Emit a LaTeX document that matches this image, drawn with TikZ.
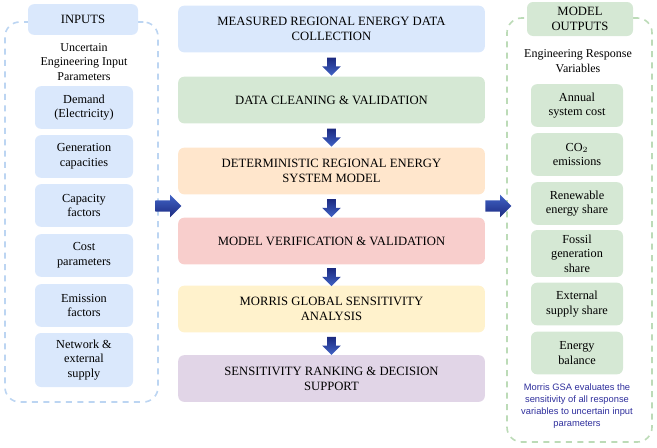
\documentclass[tikz,border=0pt]{standalone}
\usepackage{fontspec}
\setmainfont{Liberation Serif}
\newfontfamily\notefont{Liberation Sans}
\usetikzlibrary{shapes.arrows,calc}
\definecolor{inblue}{HTML}{DAE8FC}
\definecolor{ingreen}{HTML}{D5E8D4}
\definecolor{inorange}{HTML}{FFE6CC}
\definecolor{inred}{HTML}{F8CECC}
\definecolor{inyellow}{HTML}{FFF2CC}
\definecolor{inpurple}{HTML}{E1D5E7}
\definecolor{dashblue}{HTML}{BCD5F2}
\definecolor{dashgreen}{HTML}{BCDBB7}
\definecolor{notenavy}{HTML}{2E2E9C}
\definecolor{arrowdark}{HTML}{1C2A80}
\definecolor{arrowlight}{HTML}{4163C6}

\begin{document}
\begin{tikzpicture}[x=0.75pt,y=-0.75pt,
  panel/.style={rectangle, rounded corners=11pt, line width=1.2pt, dash pattern=on 4.5pt off 4pt},
  header/.style={rectangle, rounded corners=4.5pt, align=center, font=\fontsize{9.5}{11}\selectfont},
  stage/.style={rectangle, rounded corners=4.5pt, minimum width=230pt, minimum height=35pt, align=center, font=\fontsize{9.5}{11.25}\selectfont},
  item/.style={rectangle, rounded corners=4.5pt, minimum height=32pt, align=center, font=\fontsize{9.2}{11}\selectfont},
  initem/.style={item, fill=inblue, minimum width=73.5pt},
  outitem/.style={item, fill=ingreen, minimum width=69pt},
  subtitle/.style={align=center, font=\fontsize{9}{10.9}\selectfont},
  downarrow/.style={single arrow, shape border rotate=270, inner sep=3pt, single arrow head extend=3.75pt, minimum height=13.5pt, top color=arrowdark, bottom color=arrowlight},
  sidearrow/.style={single arrow, inner sep=4pt, single arrow head extend=4.25pt, minimum height=19.5pt, top color=arrowlight, bottom color=arrowdark}]
\useasboundingbox (0,0) rectangle (657,447);

% side panels
\node[panel, draw=dashblue, minimum width=114.75pt, minimum height=285pt] (inpanel) at (81.5,212) {};
\node[panel, draw=dashgreen, minimum width=108.75pt, minimum height=318pt] (outpanel) at (579.5,230) {};

\node[header, fill=inblue, minimum width=82.5pt, minimum height=23pt] (inhead) at (83,19.5) {INPUTS};
\node[header, fill=ingreen, minimum width=79.5pt, minimum height=25.5pt] (outhead) at (580,19) {MODEL\\OUTPUTS};

\node[subtitle] (insub) at (84,62) {Uncertain\\Engineering Input\\Parameters};
\node[subtitle] (outsub) at (578,61) {Engineering Response\\Variables};

% inputs
\node[initem] (in1) at (84,107.5) {Demand\\(Electricity)};
\node[initem] (in2) at (84,156.5) {Generation\\capacities};
\node[initem] (in3) at (84,205.5) {Capacity\\factors};
\node[initem] (in4) at (84,255.5) {Cost\\parameters};
\node[initem] (in5) at (84,305.5) {Emission\\factors};
\node[initem, minimum height=40.5pt] (in6) at (84,360) {Network \&\\external\\supply};

% workflow
\node[stage, fill=inblue] (s1) at (331.5,29) {MEASURED REGIONAL ENERGY DATA\\COLLECTION};
\node[stage, fill=ingreen] (s2) at (331.5,100) {DATA CLEANING \& VALIDATION};
\node[stage, fill=inorange] (s3) at (331.5,171) {DETERMINISTIC REGIONAL ENERGY\\SYSTEM MODEL};
\node[stage, fill=inred] (s4) at (331.5,241) {MODEL VERIFICATION \& VALIDATION};
\node[stage, fill=inyellow] (s5) at (331.5,309) {MORRIS GLOBAL SENSITIVITY\\ANALYSIS};
\node[stage, fill=inpurple] (s6) at (331.5,378.5) {SENSITIVITY RANKING \& DECISION\\SUPPORT};

% outputs
\node[outitem] (out1) at (577,105.5) {Annual\\system cost};
\node[outitem] (out2) at (577,154.5) {CO$_2$\\emissions};
\node[outitem] (out3) at (577,203.5) {Renewable\\energy share};
\node[outitem] (out4) at (577,253.5) {Fossil\\generation\\share};
\node[outitem] (out5) at (577,304) {External\\supply share};
\node[outitem] (out6) at (577,353) {Energy\\balance};

\node[align=center, text=notenavy, font=\notefont\fontsize{7}{9}\selectfont] (note) at (577,406) {Morris GSA evaluates the\\sensitivity of all response\\variables to uncertain input\\parameters};

% arrows
\node[downarrow] (a12) at ($(s1.south)!.5!(s2.north)$) {};
\node[downarrow] (a23) at ($(s2.south)!.5!(s3.north)$) {};
\node[downarrow] (a34) at ($(s3.south)!.5!(s4.north)$) {};
\node[downarrow] (a45) at ($(s4.south)!.5!(s5.north)$) {};
\node[downarrow] (a56) at ($(s5.south)!.5!(s6.north)$) {};

\coordinate (gap) at ($(s3.south)!.5!(s4.north)$);
\node[sidearrow] (ain) at ($(inpanel.east |- gap)!.35!(s3.west |- gap)$) {};
\node[sidearrow] (aout) at ($(s3.east |- gap)!.5!(outpanel.west |- gap)$) {};

\end{tikzpicture}
\end{document}
